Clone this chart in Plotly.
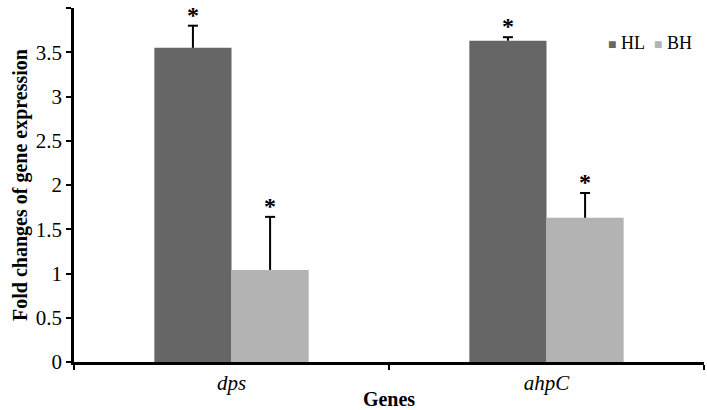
import plotly.graph_objects as go

genes = ["dps", "ahpC"]
gene_labels = ["<i>dps</i>", "<i>ahpC</i>"]
series_names = ["HL", "BH"]
series_colors = ["#666666", "#b3b3b3"]
hl_values = [3.55, 3.63]
hl_errors = [0.25, 0.04]
bh_values = [1.04, 1.63]
bh_errors = [0.60, 0.28]
y_ticks = [0, 0.5, 1, 1.5, 2, 2.5, 3, 3.5, 4]
y_ticktext = ["0", "0.5", "1", "1.5", "2", "2.5", "3", "3.5", "4"]

FONT = "Liberation Serif, Times New Roman, serif"
BARGAP = 0.51

fig = go.Figure()
all_vals = [hl_values, bh_values]
all_errs = [hl_errors, bh_errors]
for name, color, vals in zip(series_names, series_colors, all_vals):
    fig.add_trace(go.Bar(name=name, x=genes, y=vals,
                         marker=dict(color=color, line=dict(width=0))))

# error bars (upper only) and significance asterisks, positioned from data
bar_w = (1 - BARGAP) / 2
offsets = [-bar_w / 2, bar_w / 2]
for vals, errs, off in zip(all_vals, all_errs, offsets):
    for i, (v, e) in enumerate(zip(vals, errs)):
        xc = i + off
        fig.add_shape(type="line", xref="x", yref="y", x0=xc, x1=xc, y0=v, y1=v + e,
                      line=dict(color="black", width=2))
        fig.add_shape(type="line", xref="x", yref="y", xsizemode="pixel", xanchor=xc,
                      x0=-5, x1=5, y0=v + e, y1=v + e, line=dict(color="black", width=2))
        fig.add_annotation(
            x=xc, y=v + e, xref="x", yref="y", text="<b>*</b>",
            showarrow=False, yanchor="bottom", yshift=-4,
            font=dict(family=FONT, size=24, color="black"),
        )

# legend drawn as text
legend_text = "&nbsp;&nbsp;".join(
    f"<span style='color:{c};font-size:14px'>■</span>&nbsp;{n}" for n, c in zip(series_names, series_colors)
)
fig.add_annotation(x=1.0, y=0.90, xref="paper", yref="paper", xanchor="right", yanchor="middle",
                   xshift=-10, text=legend_text, showarrow=False,
                   font=dict(family=FONT, size=18, color="black"))

fig.update_layout(
    width=707, height=410,
    margin=dict(l=74, r=3, t=8, b=48),
    paper_bgcolor="white", plot_bgcolor="white",
    barmode="group", bargap=BARGAP, bargroupgap=0,
    font=dict(family=FONT, color="black", size=16),
    showlegend=False,
    xaxis=dict(
        type="category", tickmode="array", tickvals=genes, ticktext=gene_labels,
        tickson="boundaries", ticks="outside", ticklen=5, tickwidth=2, tickcolor="black",
        showline=True, linecolor="black", linewidth=2.5, showgrid=False, automargin=False,
        tickfont=dict(family=FONT, size=21, color="black"),
        title=dict(text="<b>Genes</b>", font=dict(family=FONT, size=20, color="black"), standoff=2),
        range=[-0.5, 1.5],
    ),
    yaxis=dict(
        range=[0, 4], tickmode="array", tickvals=y_ticks, ticktext=y_ticktext,
        ticks="outside", ticklen=5, tickwidth=2, tickcolor="black",
        showline=True, linecolor="black", linewidth=2.5, showgrid=False, zeroline=False,
        automargin=False,
        tickfont=dict(family=FONT, size=21, color="black"),
        title=dict(text="<b>Fold changes of gene expression</b>",
                   font=dict(family=FONT, size=20, color="black"), standoff=3),
    ),
)

fig.write_html("out.html", config={"displayModeBar": False},
               post_script="document.body.style.margin='0';document.body.style.padding='0';")
